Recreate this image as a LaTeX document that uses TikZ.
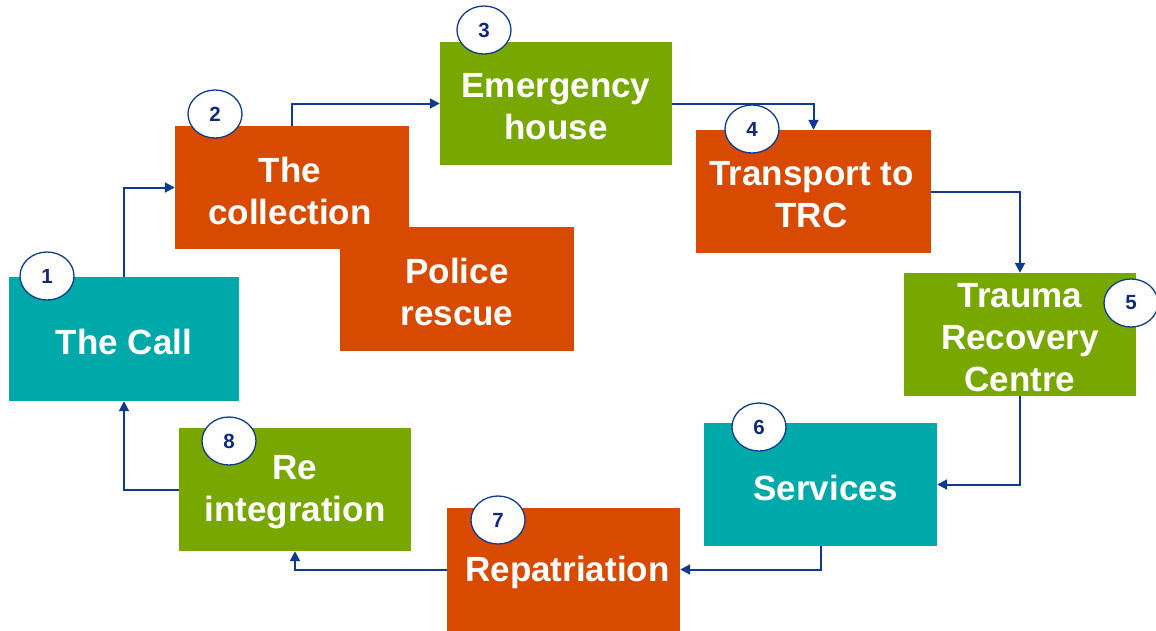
\documentclass[tikz,border=0pt]{standalone}
\usepackage{fontspec}
\setmainfont{Liberation Sans}
\usetikzlibrary{arrows.meta,shapes.geometric}
\definecolor{tealbox}{HTML}{00A9A9}
\definecolor{orangebox}{HTML}{D84A00}
\definecolor{greenbox}{HTML}{78A800}
\definecolor{linenavy}{HTML}{0E3B8F}
\definecolor{numnavy}{HTML}{0F2A78}
\begin{document}
\begin{tikzpicture}[x=1pt,y=-1pt,
  stagebox/.style={rectangle, inner sep=0pt, minimum width=233pt, minimum height=123pt},
  stagetext/.style={text=white, align=center, inner sep=0pt, yshift=-3pt,
    font=\bfseries\fontsize{35}{42}\selectfont},
  numbadge/.style={ellipse, inner sep=0pt, minimum width=54pt, minimum height=48pt,
    fill=white, draw=linenavy, line width=1.3pt, text=numnavy,
    font=\bfseries\fontsize{20.5}{20.5}\selectfont},
  conn/.style={draw=linenavy, line width=2pt, -{Triangle[length=10pt,width=10pt]}}]
\useasboundingbox (0,0) rectangle (1156,630);
% boxes
\node[stagebox, fill=tealbox, minimum width=230pt, minimum height=124pt,
  label={[stagetext]center:{The Call}}] (call) at (124,339) {};
\node[stagebox, fill=orangebox, minimum width=234pt,
  label={[stagetext, xshift=-2pt]center:{The\\collection}}] (coll) at (292,187.5) {};
\node[stagebox, fill=orangebox, minimum width=234pt, minimum height=124pt,
  label={[stagetext]center:{Police\\rescue}}] (police) at (457,289) {};
\node[stagebox, fill=greenbox, minimum width=232pt,
  label={[stagetext]center:{Emergency\\house}}] (emerg) at (556,103.5) {};
\node[stagebox, fill=orangebox, minimum width=235pt,
  label={[stagetext, xshift=-2pt]center:{Transport to\\TRC}}] (trans) at (813.5,191.5) {};
\node[stagebox, fill=greenbox, minimum width=232pt,
  label={[stagetext]center:{Trauma\\Recovery\\Centre}}] (trauma) at (1020,334.5) {};
\node[stagebox, fill=tealbox,
  label={[stagetext, xshift=5pt]center:{Services}}] (serv) at (820.5,484.5) {};
\node[stagebox, fill=orangebox,
  label={[stagetext, xshift=4pt]center:{Repatriation}}] (repat) at (563.5,569.5) {};
\node[stagebox, fill=greenbox, minimum width=232pt,
  label={[stagetext]center:{Re\\integration}}] (reint) at (295,489.5) {};
% connectors
\draw[conn] (call.north) |- (coll.west);
\draw[conn] (coll.north) |- (emerg.west);
\draw[conn] (emerg.east) -| (trans.north);
\draw[conn] (trans.east) -| (trauma.north);
\draw[conn] (trauma.south) |- (serv.east);
\draw[conn] (serv.south) |- (repat.east);
\draw[conn] (repat.west) -| (reint.south);
\draw[conn] (reint.west) -| (call.south);
% number badges
\node[numbadge] (n1) at (47,276) {1};
\node[numbadge] (n2) at (215,114) {2};
\node[numbadge] (n3) at (484,30) {3};
\node[numbadge] (n4) at (752,129) {4};
\node[numbadge] (n5) at (1131,303) {5};
\node[numbadge] (n6) at (759,427) {6};
\node[numbadge] (n7) at (498,520) {7};
\node[numbadge] (n8) at (229,441) {8};
\end{tikzpicture}
\end{document}
